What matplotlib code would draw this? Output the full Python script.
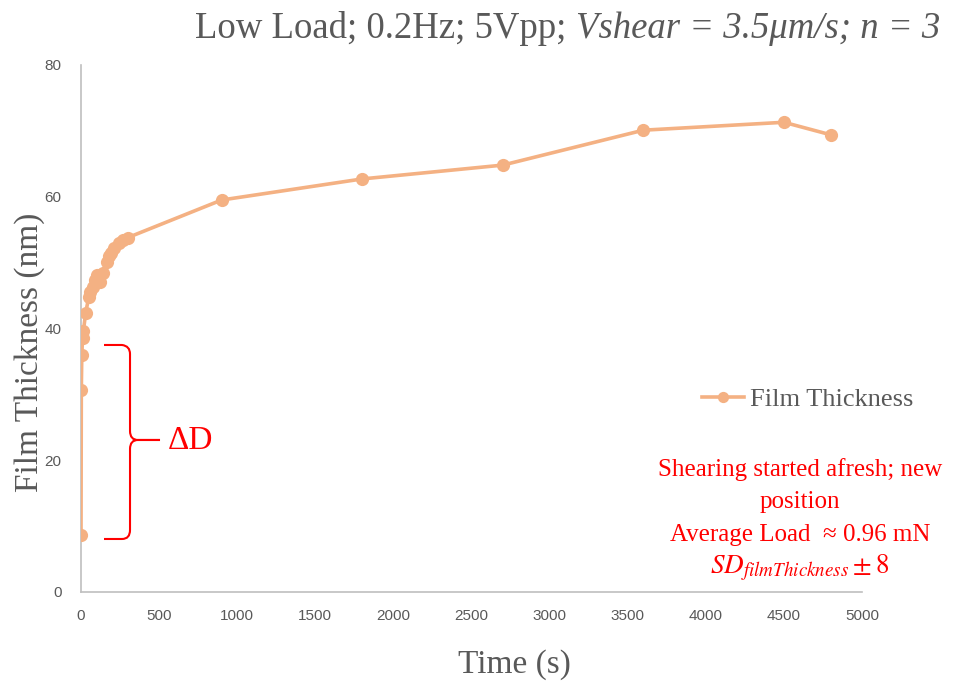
import matplotlib
matplotlib.use("Agg")
import matplotlib.pyplot as plt
from matplotlib.path import Path
from matplotlib.patches import PathPatch
from matplotlib import font_manager

# Film thickness measured over time after shearing restarted
time_s = [0, 2, 5, 10, 15, 30, 50, 60, 75, 90, 105, 120, 140, 165, 180, 190,
          210, 240, 270, 300, 900, 1800, 2700, 3600, 4500, 4800]
thickness_nm = [8.7, 30.7, 36.0, 38.6, 39.6, 42.4, 44.8, 45.5, 46.3, 47.4, 48.1,
                47.0, 48.4, 50.1, 51.0, 51.5, 52.2, 53.0, 53.4, 53.8, 59.5, 62.7,
                64.8, 70.1, 71.3, 69.4]
series_name = "Film Thickness"
x_ticks = [0, 500, 1000, 1500, 2000, 2500, 3000, 3500, 4000, 4500, 5000]
y_ticks = [0, 20, 40, 60, 80]

names = {f.name for f in font_manager.fontManager.ttflist}
tick_font = "Liberation Sans Narrow" if "Liberation Sans Narrow" in names else "Liberation Sans"
serif = "Liberation Serif"

plt.rcParams["mathtext.fontset"] = "stix"

LINE = "#F4B183"
GREY = "#595959"
RED = "#FF0000"
W, H = 961, 689

fig = plt.figure(figsize=(W / 100, H / 100), dpi=100)
ax = fig.add_axes([0.0843, 0.1408, 0.8127, 0.7649])

ax.plot(time_s, thickness_nm, color=LINE, lw=2.6, marker="o", ms=9.5,
        markeredgewidth=0, label=series_name, zorder=3)

ax.set_xlim(0, 5000)
ax.set_ylim(0, 80)
ax.set_xticks(x_ticks)
ax.set_yticks(y_ticks)
for s in ("top", "right"):
    ax.spines[s].set_visible(False)
for s in ("left", "bottom"):
    ax.spines[s].set_color("#BFBFBF")
    ax.spines[s].set_linewidth(1.2)
ax.tick_params(length=0, colors=GREY, labelsize=11)
ax.tick_params(axis="x", pad=12)
ax.tick_params(axis="y", pad=14)
for lab in ax.get_xticklabels() + ax.get_yticklabels():
    lab.set_fontfamily(tick_font)

# axis titles
fig.text(514 / W, 1 - 665 / H, "Time (s)", fontfamily=serif, fontsize=24,
         color=GREY, ha="center", va="center")
fig.text(30 / W, 1 - 352 / H, "Film Thickness (nm)", fontfamily=serif, fontsize=24,
         color=GREY, ha="center", va="center", rotation=90)

# chart title: plain part followed by italic part
tx, ty = 195 / W, 1 - 38 / H
t1 = fig.text(tx, ty, "Low Load; 0.2Hz; 5Vpp; ", fontfamily=serif, fontsize=26.5,
              color=GREY, ha="left", va="baseline")
fig.canvas.draw()
bb = t1.get_window_extent()
fig.text(bb.x1 / fig.bbox.width, ty, "Vshear = 3.5μm/s; n = 3", fontfamily=serif,
         fontsize=26.5, style="italic", color=GREY, ha="left", va="baseline")

leg = ax.legend(loc="center left", bbox_to_anchor=(0.765, 0.365), frameon=False,
                prop={"family": serif, "size": 19}, handlelength=1.6,
                handletextpad=0.2, markerscale=0.85)
for t in leg.get_texts():
    t.set_color(GREY)


def px2data(px, py):
    return ((px - 81) / 781 * 5000, (592 - py) / 527 * 80)


# curly brace marking the initial jump
pts = [(104, 345), (122, 345), (130, 346), (130, 354),
       (130, 431), (130, 440), (138, 440), (160, 440),
       (160, 440), (138, 440), (130, 440), (130, 449),
       (130, 530), (130, 539), (122, 539), (104, 539)]
codes = [Path.MOVETO, Path.LINETO, Path.CURVE3, Path.CURVE3,
         Path.LINETO, Path.CURVE3, Path.CURVE3, Path.LINETO,
         Path.MOVETO, Path.LINETO, Path.CURVE3, Path.CURVE3,
         Path.LINETO, Path.CURVE3, Path.CURVE3, Path.LINETO]
pts_d = [px2data(*p) for p in pts]
brace = PathPatch(Path(pts_d, codes), fill=False, edgecolor=RED, lw=1.5,
                  clip_on=False, zorder=2)
ax.add_patch(brace)
ax.text(*px2data(168, 441), "ΔD", fontfamily=serif, fontsize=24, color=RED,
        ha="left", va="center")

cx = px2data(800, 0)[0]
ax.text(cx, px2data(0, 470)[1], "Shearing started afresh; new", fontfamily=serif,
        fontsize=18, color=RED, ha="center", va="center")
ax.text(cx, px2data(0, 502)[1], "position", fontfamily=serif,
        fontsize=18, color=RED, ha="center", va="center")
ax.text(cx, px2data(0, 535)[1], "Average Load  ≈ 0.96 mN", fontfamily=serif,
        fontsize=18, color=RED, ha="center", va="center")
ax.text(cx, px2data(0, 568)[1], r"$SD_{filmThickness}\pm 8$",
        fontsize=19.5, color=RED, ha="center", va="center")

fig.savefig("out.png", dpi=100)
